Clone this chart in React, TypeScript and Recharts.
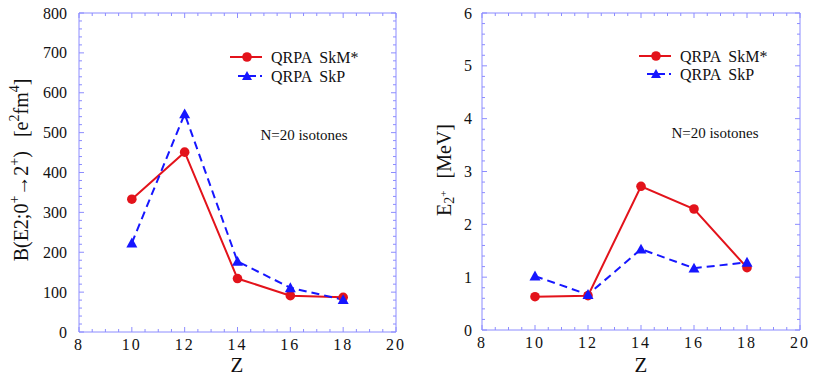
import React from "react";
import { LineChart, Line, XAxis, YAxis, Legend } from "recharts";

// ---- data ----
const zValues = [10, 12, 14, 16, 18];
const bE2SkM = [333, 451, 134, 91, 87];
const bE2SkP = [223, 547, 177, 111, 81];
const e2SkM = [0.63, 0.65, 2.72, 2.29, 1.18];
const e2SkP = [1.02, 0.67, 1.53, 1.17, 1.28];

const zMajorTicks = [8, 10, 12, 14, 16, 18, 20];
const bMajorTicks = [0, 100, 200, 300, 400, 500, 600, 700, 800];
const eMajorTicks = [0, 1, 2, 3, 4, 5, 6];

const seriesNames = ["QRPA  SkM*", "QRPA  SkP"];
const annotation = "N=20 isotones";

// ---- styles ----
const RED = "#e3131b";
const BLUE = "#1616ff";
const AXIS = "#8c8cff";
const FONT = "'Liberation Serif', 'Times New Roman', serif";

const withMinor = (majors: number[], sub: number) => {
  const out: number[] = [];
  for (let i = 0; i < majors.length - 1; i++) {
    const a = majors[i];
    const b = majors[i + 1];
    for (let k = 0; k < sub; k++) out.push(Math.round((a + ((b - a) * k) / sub) * 1000) / 1000);
  }
  out.push(majors[majors.length - 1]);
  return out;
};

const zTicks = withMinor(zMajorTicks, 4);
const bTicks = withMinor(bMajorTicks, 5);
const eTicks = withMinor(eMajorTicks, 5);

const leftData = zValues.map((z, i) => ({ z, skm: bE2SkM[i], skp: bE2SkP[i] }));
const rightData = zValues.map((z, i) => ({ z, skm: e2SkM[i], skp: e2SkP[i] }));

type Side = "bottom" | "top" | "left" | "right";

const makeTick = (side: Side, majors: number[], showLabel: boolean, gap = 12) => (props: any) => {
  const { x, y, payload } = props;
  const v = payload.value;
  const major = majors.some((m) => Math.abs(m - v) < 1e-6);
  const len = major ? 5 : 3;
  let x2 = x, y2 = y;
  if (side === "bottom") y2 = y - len;
  if (side === "top") y2 = y + len;
  if (side === "left") x2 = x + len;
  if (side === "right") x2 = x - len;
  return (
    <g>
      <line x1={x} y1={y} x2={x2} y2={y2} stroke={AXIS} strokeWidth={1} />
      {showLabel && major && side === "bottom" && (
        <text x={x} y={y + 18} textAnchor="middle" fontFamily={FONT} fontSize={16} fill="#111" letterSpacing={2}>
          {String(v)}
        </text>
      )}
      {showLabel && major && side === "left" && (
        <text x={x - gap} y={y} textAnchor="end" dominantBaseline="central" fontFamily={FONT} fontSize={16} fill="#111">
          {String(v)}
        </text>
      )}
    </g>
  );
};

const CircleDot = (props: any) => {
  const { cx, cy, index } = props;
  if (cx == null || cy == null) return <g key={index} />;
  return <circle key={index} cx={cx} cy={cy} r={4.8} fill={RED} stroke="none" />;
};

const TriDot = (props: any) => {
  const { cx, cy, index } = props;
  if (cx == null || cy == null) return <g key={index} />;
  const s = 5.5;
  return (
    <polygon
      key={index}
      points={`${cx},${cy - s} ${cx - s},${cy + s * 0.8} ${cx + s},${cy + s * 0.8}`}
      fill={BLUE}
      stroke="none"
    />
  );
};

const makeLegend = (lineX0: number, blueX0: number, lineX1: number, markX: number, textX: number, y1: number, y2: number) => () => (
  <svg width={170} height={50} style={{ overflow: "visible", display: "block" }}>
    <line x1={lineX0} y1={y1} x2={lineX1} y2={y1} stroke={RED} strokeWidth={2} />
    <circle cx={markX} cy={y1} r={4.8} fill={RED} />
    <text x={textX} y={y1} dominantBaseline="central" fontFamily={FONT} fontSize={16} fill="#111" style={{ whiteSpace: "pre" }}>
      {seriesNames[0]}
    </text>
    <line x1={blueX0} y1={y2} x2={lineX1} y2={y2} stroke={BLUE} strokeWidth={2} strokeDasharray="7 4" />
    <polygon points={`${markX},${y2 - 5} ${markX - 5},${y2 + 4} ${markX + 5},${y2 + 4}`} fill={BLUE} />
    <text x={textX} y={y2} dominantBaseline="central" fontFamily={FONT} fontSize={16} fill="#111" style={{ whiteSpace: "pre" }}>
      {seriesNames[1]}
    </text>
  </svg>
);

const axisCommon = {
  type: "number" as const,
  dataKey: "z",
  domain: [8, 20] as [number, number],
  ticks: zTicks,
  interval: 0 as const,
  tickSize: 0,
  tickMargin: 0,
  tickLine: false,
  allowDataOverflow: true,
  axisLine: { stroke: AXIS, strokeWidth: 1 },
  height: 1,
};

const yCommon = {
  type: "number" as const,
  interval: 0 as const,
  tickSize: 0,
  tickMargin: 0,
  tickLine: false,
  width: 1,
  allowDataOverflow: true,
  axisLine: { stroke: AXIS, strokeWidth: 1 },
};

export default function App() {
  return (
    <div style={{ position: "absolute", left: 0, top: 0, width: 831, height: 379, background: "#fff" }}>
      {/* Left panel */}
      <div style={{ position: "absolute", left: 0, top: 0 }}>
        <LineChart width={415} height={379} data={leftData} margin={{ top: 12, right: 18, bottom: 46, left: 78 }}>
          <XAxis {...axisCommon} xAxisId={0} orientation="bottom" tick={makeTick("bottom", zMajorTicks, true)} />
          <XAxis {...axisCommon} xAxisId="top" orientation="top" tick={makeTick("top", zMajorTicks, false)} />
          <YAxis {...yCommon} yAxisId={0} domain={[0, 800]} ticks={bTicks} tick={makeTick("left", bMajorTicks, true, 12)} />
          <YAxis {...yCommon} yAxisId="right" orientation="right" domain={[0, 800]} ticks={bTicks} tick={makeTick("right", bMajorTicks, false)} />
          <Legend
            layout="vertical"
            align="center"
            verticalAlign="middle"
            content={makeLegend(0, 8, 32, 17, 41, 10, 29)}
            wrapperStyle={{ position: "absolute", left: 230, top: 47, width: 170, height: 50 }}
          />
          <Line type="linear" dataKey="skm" xAxisId={0} yAxisId={0} stroke={RED} strokeWidth={2} dot={CircleDot} isAnimationActive={false} />
          <Line type="linear" dataKey="skp" xAxisId={0} yAxisId={0} stroke={BLUE} strokeWidth={2} strokeDasharray="8 5" dot={TriDot} isAnimationActive={false} />
          <text x={304} y={135} textAnchor="middle" dominantBaseline="central" fontFamily={FONT} fontSize={15} fill="#111">
            {annotation}
          </text>
          <text x={237} y={372} textAnchor="middle" fontFamily={FONT} fontSize={21} fill="#111">Z</text>
          <text
            transform="rotate(-90)"
            x={-170}
            y={21}
            textAnchor="middle"
            dominantBaseline="central"
            fontFamily={FONT}
            fontSize={20}
            fill="#111"
          >
            <tspan>B(E2;0</tspan>
            <tspan dy={-7} fontSize={14}>+</tspan>
            <tspan dy={7}>{"\u2192"}2</tspan>
            <tspan dy={-7} fontSize={14}>+</tspan>
            <tspan dy={7}>)</tspan>
            <tspan dx={14}>[e</tspan>
            <tspan dy={-7} fontSize={14}>2</tspan>
            <tspan dy={7}>fm</tspan>
            <tspan dy={-7} fontSize={14}>4</tspan>
            <tspan dy={7}>]</tspan>
          </text>
        </LineChart>
      </div>

      {/* Right panel */}
      <div style={{ position: "absolute", left: 415, top: 0 }}>
        <LineChart width={416} height={379} data={rightData} margin={{ top: 12, right: 30, bottom: 48, left: 66 }}>
          <XAxis {...axisCommon} xAxisId={0} orientation="bottom" tick={makeTick("bottom", zMajorTicks, true)} />
          <XAxis {...axisCommon} xAxisId="top" orientation="top" tick={makeTick("top", zMajorTicks, false)} />
          <YAxis {...yCommon} yAxisId={0} domain={[0, 6]} ticks={eTicks} tick={makeTick("left", eMajorTicks, true, 10)} />
          <YAxis {...yCommon} yAxisId="right" orientation="right" domain={[0, 6]} ticks={eTicks} tick={makeTick("right", eMajorTicks, false)} />
          <Legend
            layout="vertical"
            align="center"
            verticalAlign="middle"
            content={makeLegend(0, 8, 32, 17, 41, 10, 28)}
            wrapperStyle={{ position: "absolute", left: 224, top: 46, width: 170, height: 50 }}
          />
          <Line type="linear" dataKey="skm" xAxisId={0} yAxisId={0} stroke={RED} strokeWidth={2} dot={CircleDot} isAnimationActive={false} />
          <Line type="linear" dataKey="skp" xAxisId={0} yAxisId={0} stroke={BLUE} strokeWidth={2} strokeDasharray="8 5" dot={TriDot} isAnimationActive={false} />
          <text x={300} y={133} textAnchor="middle" dominantBaseline="central" fontFamily={FONT} fontSize={15} fill="#111">
            {annotation}
          </text>
          <text x={226} y={372} textAnchor="middle" fontFamily={FONT} fontSize={21} fill="#111">Z</text>
          <text
            transform="rotate(-90)"
            x={-170}
            y={29}
            textAnchor="middle"
            dominantBaseline="central"
            fontFamily={FONT}
            fontSize={20}
            fill="#111"
          >
            <tspan>E</tspan>
            <tspan dy={5} fontSize={14}>2</tspan>
            <tspan dy={-6} fontSize={11}>+</tspan>
            <tspan dy={1} dx={12}>[MeV]</tspan>
          </text>
        </LineChart>
      </div>
    </div>
  );
}
